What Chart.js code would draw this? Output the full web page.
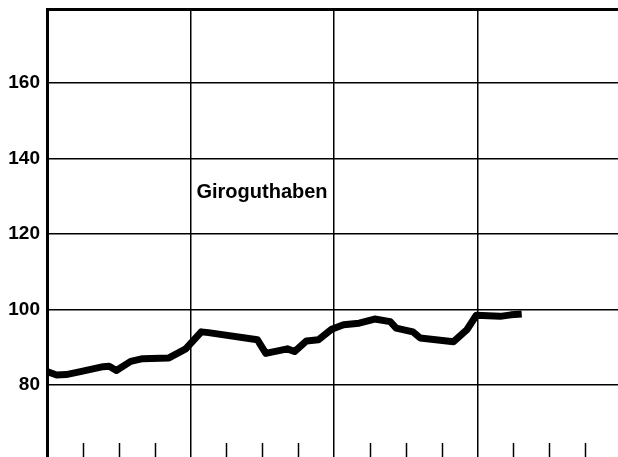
<!DOCTYPE html>
<html>
<head>
<meta charset="utf-8">
<script src="https://cdn.jsdelivr.net/npm/chart.js@4.4.0/dist/chart.umd.min.js"></script>
<style>
  html, body { margin: 0; padding: 0; background: #fff; overflow: hidden; }
</style>
</head>
<body>
<canvas id="myChart" width="618" height="457"></canvas>
<script>
// Daten: Monate seit Beginn (x) und Index-Wert (y)
const months = [0, 0.8, 1.6, 2.7, 4.7, 5.2, 5.8, 7.0, 8.0, 10.2, 11.6, 12.9, 13.5, 17.6, 18.3,
    20.1, 20.7, 21.7, 22.7, 23.8, 24.8, 26.1, 27.4, 28.7, 29.2, 30.6, 31.2, 34.0, 35.1,
    35.9, 37.9, 38.8, 39.7];
const values = [83.6, 82.7, 82.8, 83.5, 84.9, 85.0, 83.9, 86.3, 87.0, 87.2, 89.6, 94.1, 93.9, 92.0, 88.4,
    89.6, 88.9, 91.7, 92.0, 94.8, 96.0, 96.4, 97.5, 96.8, 95.1, 94.1, 92.5, 91.5, 94.6,
    98.5, 98.2, 98.6, 98.8];
const yTicks = [80, 100, 120, 140, 160];
const yearMarks = [12, 24, 36];
const quarterMarks = [3, 6, 9, 15, 18, 21, 27, 30, 33, 39, 42, 45];
const seriesLabel = 'Giroguthaben';
const labelAt = [12.5, 131]; // Position der Beschriftung (Monat, Wert)

const yMin = 61, yMax = 179.5;

// kurze Quartalsstriche unten + Beschriftung
const extras = {
    id: 'extras',
    afterDraw(chart) {
        const ctx = chart.ctx;
        const xs = chart.scales.x, ys = chart.scales.y;
        const bottom = chart.chartArea.bottom;
        ctx.save();
        ctx.strokeStyle = '#000';
        ctx.lineWidth = 1.5;
        quarterMarks.forEach(function(q) {
            const px = Math.round(xs.getPixelForValue(q)) + 0.5;
            ctx.beginPath();
            ctx.moveTo(px, bottom - 14);
            ctx.lineTo(px, bottom);
            ctx.stroke();
        });
        ctx.fillStyle = '#000';
        ctx.font = 'bold 20px "Liberation Sans", Arial, sans-serif';
        ctx.textAlign = 'left';
        ctx.textBaseline = 'middle';
        ctx.fillText(seriesLabel, xs.getPixelForValue(labelAt[0]), ys.getPixelForValue(labelAt[1]));
        ctx.restore();
    }
};

const ctx = document.getElementById('myChart');
new Chart(ctx, {
    type: 'line',
    data: {
        datasets: [{
            label: seriesLabel,
            data: months.map(function(m, i) { return { x: m, y: values[i] }; }),
            borderColor: '#000',
            borderWidth: 7,
            borderJoinStyle: 'round',
            pointRadius: 0,
            tension: 0,
            clip: false
        }]
    },
    options: {
        responsive: false,
        animation: false,
        layout: { padding: { top: 9, left: 0, right: 0, bottom: 0 } },
        plugins: { legend: { display: false }, tooltip: { enabled: false } },
        scales: {
            x: {
                type: 'linear',
                min: 0,
                max: 47.75,
                afterBuildTicks: function(scale) {
                    scale.ticks = yearMarks.map(function(v) { return { value: v }; });
                },
                afterFit: function(scale) { scale.height = 0; scale.paddingLeft = 0; scale.paddingRight = 0; },
                ticks: { display: false },
                grid: { color: '#000', lineWidth: 1.5, drawTicks: false },
                border: { display: false }
            },
            y: {
                min: yMin,
                max: yMax,
                afterBuildTicks: function(scale) {
                    scale.ticks = yTicks.concat([yMax]).map(function(v) { return { value: v }; });
                },
                afterFit: function(scale) { scale.width = 47; scale.paddingTop = 0; scale.paddingBottom = 0; },
                ticks: {
                    color: '#000',
                    padding: 7,
                    font: { family: '"Liberation Sans", Arial, sans-serif', size: 19, weight: 'bold' },
                    callback: function(v) { return yTicks.includes(v) ? String(v) : ''; }
                },
                grid: {
                    color: '#000',
                    drawTicks: false,
                    lineWidth: function(c) { return c.tick && c.tick.value === yMax ? 3 : 1.5; }
                },
                border: { display: true, color: '#000', width: 3 }
            }
        }
    },
    plugins: [extras]
});
</script>
</body>
</html>
